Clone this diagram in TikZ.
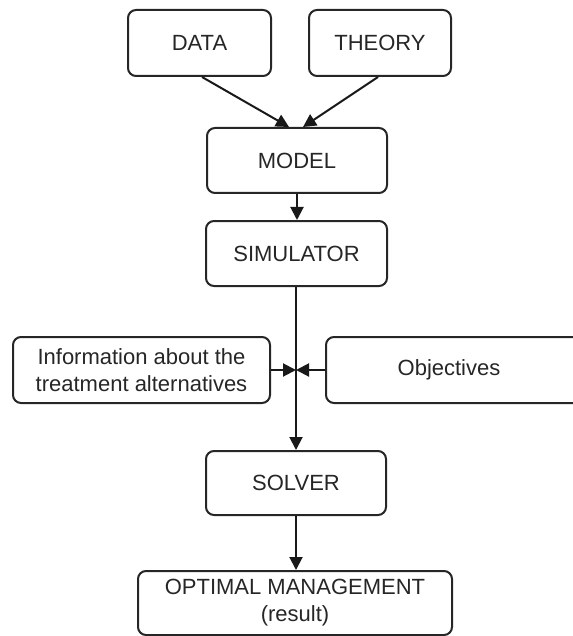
\documentclass[tikz,border=0pt]{standalone}
\usepackage{fontspec}
\setmainfont{Liberation Sans}
\usetikzlibrary{arrows.meta,calc}
\begin{document}
\begin{tikzpicture}[x=1pt,y=-1pt,
  box/.style={draw=black!85, line width=2pt, rounded corners=8pt, inner sep=0pt, font=\fontsize{22}{27}\selectfont, text=black!85, align=center},
  conn/.style={draw=black!90, line width=2pt, -{Triangle[length=13pt,width=13pt]}}]
\useasboundingbox (0,0) rectangle (572,636);
\node[box, minimum width=143pt, minimum height=66pt] (data) at (199.5,43) {DATA};
\node[box, minimum width=142pt, minimum height=66pt] (theory) at (380,43) {THEORY};
\node[box, minimum width=180pt, minimum height=65pt] (model) at (297,160.5) {MODEL};
\node[box, minimum width=181pt, minimum height=65pt] (sim) at (296.5,253.5) {SIMULATOR};
\node[box, minimum width=257pt, minimum height=66pt] (info) at (141.5,370) {Information about the\\treatment alternatives};
\node[box, minimum width=256pt, minimum height=66pt] (obj) at (454,370) {};
\node[font=\fontsize{22}{27}\selectfont, text=black!85] (objt) at (449,370) {Objectives};
\node[box, minimum width=180pt, minimum height=64pt] (solver) at (296,483) {SOLVER};
\node[box, minimum width=314pt, minimum height=64pt] (opt) at (295,603) {OPTIMAL MANAGEMENT\\(result)};
\coordinate (j) at (296,370);
\draw[conn] ($(data.south)+(2.5,0)$) -- ($(model.north)+(-8,0)$);
\draw[conn] ($(theory.south)+(-2,0)$) -- ($(model.north)+(6,0)$);
\draw[conn] (model.south) -- (model.south |- sim.north);
\draw[conn] (sim.south -| j) -- (j |- solver.north);
\draw[conn] (info.east) -- (j);
\draw[conn] (obj.west) -- (j);
\draw[conn] (solver.south -| j) -- (j |- opt.north);
\end{tikzpicture}
\end{document}
